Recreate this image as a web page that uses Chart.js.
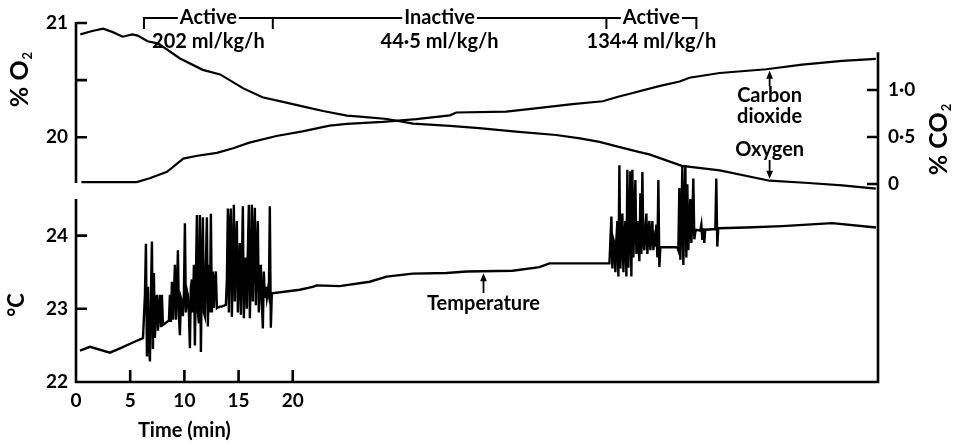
<!DOCTYPE html>
<html>
<head>
<meta charset="utf-8">
<script src="https://cdn.jsdelivr.net/npm/chart.js@4.4.1/dist/chart.umd.min.js"></script>
<style>
  html, body { margin: 0; padding: 0; background: #fff; }
  #wrap { position: relative; width: 954px; height: 444px; }
  #wrap canvas { position: absolute; left: 0; top: 0; }
</style>
</head>
<body>
<div id="wrap">
  <canvas id="gas" width="954" height="444"></canvas>
  <canvas id="temp" width="954" height="444"></canvas>
</div>
<script>
// ---- time axis (minutes) ----
const timeMax = 74;
const timeTicks = [0, 5, 10, 15, 20];
const timeTickLabels = ['0', '5', '10', '15', '20'];

// ---- axis ticks ----
const o2Ticks = [20, 20.5, 21];
const o2TickLabels = ['20', '', '21'];
const co2Ticks = [0, 0.5, 1.0];
const co2TickLabels = ['0', '0·5', '1·0'];
const tempTicks = [22, 23, 24];
const tempTickLabels = ['22', '23', '24'];

// ---- activity phases ----
const phaseNames = ['Active', 'Inactive', 'Active'];
const phaseRates = ['202 ml/kg/h', '44·5 ml/kg/h', '134·4 ml/kg/h'];
const phaseBounds = [6.27, 18.16, 48.94, 57.24];

// ---- oxygen (%) ----
const o2Time = [0.4, 1.5, 2.5, 3.4, 4.3, 5.2, 5.7, 6.6, 7.6, 9.6, 11.7, 13.3, 15.4, 17.2,
  19.1, 20.9, 22.8, 25.0, 26.2, 28.7, 31.1, 34.5, 37.2, 40.6, 44.3, 46.5, 48.3, 49.9,
  52.0, 52.9, 55.9, 59.4, 64.0, 67.6, 70.7, 73.8];
const o2Values = [20.90, 20.93, 20.95, 20.92, 20.88, 20.90, 20.89, 20.84, 20.82, 20.69,
  20.59, 20.55, 20.43, 20.35, 20.31, 20.27, 20.23, 20.19, 20.18, 20.16, 20.12, 20.10,
  20.08, 20.05, 20.02, 19.99, 19.96, 19.92, 19.87, 19.85, 19.75, 19.71, 19.62, 19.60,
  19.58, 19.55];

// ---- carbon dioxide (%) ----
const co2Time = [0.5, 3.0, 5.6, 6.8, 8.4, 9.9, 11.2, 13.0, 14.5, 16.0, 18.5, 20.9, 23.4,
  25.0, 28.3, 31.4, 34.5, 35.1, 39.7, 42.8, 45.8, 48.6, 50.1, 51.1, 53.8, 55.7, 56.6,
  59.4, 63.7, 67.0, 70.7, 73.8];
const co2Values = [0.02, 0.02, 0.02, 0.06, 0.13, 0.27, 0.30, 0.33, 0.38, 0.44, 0.51, 0.56,
  0.62, 0.64, 0.66, 0.69, 0.73, 0.76, 0.77, 0.81, 0.85, 0.88, 0.93, 0.96, 1.04, 1.09,
  1.13, 1.18, 1.22, 1.27, 1.31, 1.33];

// ---- temperature (°C): slow trend outside the activity bouts ----
const tempTime = [0.37, 1.29, 3.13, 4.06, 5.25, 6.18,
  20.65, 21.84, 22.21, 24.33, 27.10, 28.66, 31.06, 34.19, 36.04, 40.28, 42.76, 43.69, 49.22,
  57.60, 57.70, 57.79, 57.88, 57.97, 58.06, 58.99, 59.08, 59.17, 59.26, 61.84, 65.16, 69.77, 73.82];
const tempValues = [22.43, 22.48, 22.40, 22.46, 22.54, 22.60,
  23.26, 23.30, 23.32, 23.31, 23.37, 23.44, 23.48, 23.49, 23.51, 23.52, 23.57, 23.62, 23.62,
  24.07, 24.15, 23.94, 24.10, 23.90, 24.08, 24.09, 24.78, 23.85, 24.10, 24.11, 24.13, 24.17, 24.11];

// ---- temperature during activity bouts, read at a fixed recorder step ----
const burstStep = 0.0922; // minutes between readings
const burst1Start = 6.36;
const burst1Values = [
  23.19, 23.89, 22.35, 23.30, 22.50, 22.28, 23.20, 23.92, 22.45, 23.49,
  22.60, 23.10, 23.19, 22.70, 23.00, 23.19, 22.75, 23.19, 22.78, 22.79,
  22.80, 22.81, 22.82, 22.83, 22.84, 23.19, 22.82, 23.37, 22.85, 23.20,
  23.60, 22.85, 23.20, 23.80, 22.90, 22.64, 23.15, 23.10, 22.90, 23.20,
  24.17, 22.95, 23.25, 23.19, 22.95, 22.46, 23.30, 23.40, 22.95, 23.60,
  22.50, 23.40, 24.28, 22.95, 22.80, 24.28, 22.41, 23.50, 24.25, 22.95,
  22.90, 23.60, 24.25, 22.76, 23.60, 22.95, 24.30, 22.95, 23.51, 23.01,
  23.40, 23.51, 23.01, 23.02, 23.02, 23.03, 23.03, 23.03, 23.04, 23.04,
  23.05, 23.05, 23.40, 24.37, 22.95, 24.10, 24.37, 22.89, 23.60, 24.42,
  23.10, 23.80, 24.20, 22.95, 23.50, 23.90, 22.92, 23.60, 24.40, 22.87,
  23.40, 23.70, 23.00, 23.80, 24.42, 22.87, 23.50, 24.42, 23.10, 23.90,
  24.38, 23.05, 23.70, 24.20, 22.95, 23.30, 23.60, 23.10, 22.73, 23.51,
  23.15, 23.30, 23.15, 23.25, 23.18, 24.40, 22.74, 23.21];
const burst2Start = 49.40;
const burst2Values = [
  24.26, 23.55, 23.95, 23.90, 23.50, 23.95, 24.20, 23.44, 24.96, 23.55,
  24.00, 24.30, 23.50, 23.95, 24.20, 23.44, 24.90, 23.56, 24.10, 24.88,
  23.44, 24.90, 23.70, 24.20, 24.76, 23.75, 24.20, 23.90, 23.65, 24.58,
  23.75, 24.87, 23.90, 23.80, 24.10, 24.30, 23.75, 24.05, 24.20, 23.80,
  24.00, 24.20, 23.80, 23.95, 23.85, 24.15, 23.70, 24.76, 23.57, 23.84,
  23.84, 23.84, 23.84, 23.84, 23.84, 23.84, 23.84, 23.84, 23.84, 23.84,
  23.84, 23.84, 23.84, 23.84, 23.84, 23.84, 23.84, 23.80, 24.65, 23.67,
  24.20, 24.94, 23.60, 24.30, 24.96, 23.70, 24.70, 23.80, 24.20, 24.50,
  23.90, 24.20, 24.78, 23.95, 24.05, 24.08];

// ---- shared drawing helpers ----
const FAMILY = 'Lato, "DejaVu Sans", sans-serif';
const INK = '#000';
const font = (size, weight = 'bold') => `${weight} ${size}px ${FAMILY}`;
const toPoints = (ts, vs) => ts.map((t, i) => ({ x: t, y: vs[i] }));
const burstPoints = (start, vs) => vs.map((v, i) => ({ x: start + i * burstStep, y: v }));

const temperaturePoints = toPoints(tempTime, tempValues)
  .concat(burstPoints(burst1Start, burst1Values), burstPoints(burst2Start, burst2Values))
  .sort((a, b) => a.x - b.x);

function seriesAt(points, t) {
  for (let i = 1; i < points.length; i++) {
    if (t <= points[i].x) {
      const p = points[i - 1], q = points[i];
      return p.y + (t - p.x) / (q.x - p.x) * (q.y - p.y);
    }
  }
  return points[points.length - 1].y;
}

function arrow(ctx, x, yFrom, yTo) {
  const dir = yTo < yFrom ? -1 : 1;
  ctx.beginPath();
  ctx.lineWidth = 1.8;
  ctx.moveTo(x, yFrom);
  ctx.lineTo(x, yTo - dir * 5);
  ctx.stroke();
  ctx.beginPath();
  ctx.moveTo(x, yTo);
  ctx.lineTo(x - 3.4, yTo - dir * 8);
  ctx.lineTo(x + 3.4, yTo - dir * 8);
  ctx.closePath();
  ctx.fill();
}

function verticalTitle(ctx, cx, cy, main, sub, size) {
  ctx.save();
  ctx.translate(cx, cy);
  ctx.rotate(-Math.PI / 2);
  ctx.textBaseline = 'middle';
  ctx.textAlign = 'left';
  ctx.font = font(size);
  const wMain = ctx.measureText(main).width;
  ctx.font = font(Math.round(size * 0.5));
  const wSub = sub ? ctx.measureText(sub).width : 0;
  const x0 = -(wMain + wSub) / 2;
  ctx.font = font(size);
  ctx.fillText(main, x0, 0);
  if (sub) {
    ctx.font = font(Math.round(size * 0.5));
    ctx.fillText(sub, x0 + wMain + 1, size * 0.3);
  }
  ctx.restore();
}

const fixedTicks = values => scale => { scale.ticks = values.map(v => ({ value: v })); };
const tickFont = { family: FAMILY, size: 19, weight: 'bold' };
const hiddenGrid = { display: false, drawTicks: false };

// ---- gas panel frame and notes ----
const gasFrame = {
  id: 'gasFrame',
  afterDraw(chart) {
    const { ctx, chartArea: a, scales: { x, yO2, yCO2 } } = chart;
    ctx.save();
    ctx.strokeStyle = INK;
    ctx.fillStyle = INK;

    // left O2 axis with inward ticks
    ctx.lineWidth = 2.6;
    ctx.beginPath();
    ctx.moveTo(a.left, yO2.getPixelForValue(21) - 1);
    ctx.lineTo(a.left, yO2.getPixelForValue(19.6));
    o2Ticks.forEach(v => {
      const py = yO2.getPixelForValue(v);
      ctx.moveTo(a.left, py);
      ctx.lineTo(a.left + 11, py);
    });
    // right CO2 axis, continuing into the temperature frame below
    ctx.moveTo(a.right, yCO2.getPixelForValue(1.4));
    ctx.lineTo(a.right, a.bottom);
    co2Ticks.forEach(v => {
      const py = yCO2.getPixelForValue(v);
      ctx.moveTo(a.right, py);
      ctx.lineTo(a.right - 11, py);
    });
    ctx.stroke();

    // activity phase bracket
    const yBr = 18;
    const xs = phaseBounds.map(t => x.getPixelForValue(t));
    ctx.font = font(20);
    ctx.textAlign = 'center';
    ctx.textBaseline = 'middle';
    ctx.lineWidth = 2;
    ctx.beginPath();
    xs.forEach(px => { ctx.moveTo(px, yBr - 1); ctx.lineTo(px, yBr + 11); });
    let cursor = xs[0];
    phaseNames.forEach((name, i) => {
      const cx = (xs[i] + xs[i + 1]) / 2;
      const w = ctx.measureText(name).width;
      ctx.moveTo(cursor, yBr);
      ctx.lineTo(cx - w / 2 - 2, yBr);
      cursor = cx + w / 2 + 2;
      ctx.fillText(name, cx, yBr);
      ctx.fillText(phaseRates[i], cx, 42);
    });
    ctx.moveTo(cursor, yBr);
    ctx.lineTo(xs[xs.length - 1], yBr);
    ctx.stroke();

    // curve labels
    const tNote = 64;
    const xn = x.getPixelForValue(tNote);
    ctx.fillText('Carbon', xn, 96);
    ctx.fillText('dioxide', xn, 117);
    ctx.fillText('Oxygen', xn, 150);
    arrow(ctx, xn, 86, yCO2.getPixelForValue(seriesAt(toPoints(co2Time, co2Values), tNote)) + 2);
    arrow(ctx, xn, 160, yO2.getPixelForValue(seriesAt(toPoints(o2Time, o2Values), tNote)) - 2);

    // axis titles
    verticalTitle(ctx, 20, 80, '% O', '2', 25);
    verticalTitle(ctx, 939, 140, '% CO', '2', 25);
    ctx.restore();
  }
};

new Chart(document.getElementById('gas'), {
  type: 'line',
  data: {
    datasets: [
      { label: 'Oxygen', data: toPoints(o2Time, o2Values), yAxisID: 'yO2',
        borderColor: INK, borderWidth: 2.2, pointRadius: 0, tension: 0, fill: false, clip: false },
      { label: 'Carbon dioxide', data: toPoints(co2Time, co2Values), yAxisID: 'yCO2',
        borderColor: INK, borderWidth: 2.2, pointRadius: 0, tension: 0, fill: false, clip: false }
    ]
  },
  options: {
    responsive: false,
    animation: false,
    devicePixelRatio: 1,
    layout: { padding: { top: 23, bottom: 245, left: 0, right: 0 } },
    plugins: { legend: { display: false }, tooltip: { enabled: false } },
    scales: {
      x: { type: 'linear', min: 0, max: timeMax, display: false },
      yO2: {
        position: 'left', min: 19.46, max: 21,
        afterBuildTicks: fixedTicks(o2Ticks),
        afterFit: s => { s.width = 76; },
        grid: hiddenGrid, border: { display: false },
        ticks: { color: INK, font: tickFont, padding: 8,
          callback: (v, i) => o2TickLabels[i] }
      },
      yCO2: {
        position: 'right', min: -0.16, max: 1.712,
        afterBuildTicks: fixedTicks(co2Ticks),
        afterFit: s => { s.width = 76; },
        grid: hiddenGrid, border: { display: false },
        ticks: { color: INK, font: tickFont, padding: 10,
          callback: (v, i) => co2TickLabels[i] }
      }
    }
  },
  plugins: [gasFrame]
});

// ---- temperature panel frame and notes ----
const tempFrame = {
  id: 'tempFrame',
  afterDraw(chart) {
    const { ctx, chartArea: a, scales: { x, yT } } = chart;
    ctx.save();
    ctx.strokeStyle = INK;
    ctx.fillStyle = INK;
    ctx.lineWidth = 2.6;
    ctx.beginPath();
    ctx.moveTo(a.left, yT.getPixelForValue(24.5));
    ctx.lineTo(a.left, a.bottom);
    ctx.lineTo(a.right, a.bottom);
    ctx.lineTo(a.right, a.top);
    tempTicks.forEach(v => {
      const py = yT.getPixelForValue(v);
      ctx.moveTo(a.left, py);
      ctx.lineTo(a.left + 11, py);
    });
    timeTicks.forEach(t => {
      const px = x.getPixelForValue(t);
      ctx.moveTo(px, a.bottom);
      ctx.lineTo(px, a.bottom - 12);
    });
    ctx.stroke();

    ctx.font = font(20);
    ctx.textAlign = 'center';
    ctx.textBaseline = 'middle';
    const tNote = 37.6;
    const xn = x.getPixelForValue(tNote);
    ctx.fillText('Temperature', xn, 304);
    arrow(ctx, xn, 293, yT.getPixelForValue(seriesAt(temperaturePoints, tNote)) + 2);

    const xMid = (x.getPixelForValue(timeTicks[0]) + x.getPixelForValue(timeTicks[timeTicks.length - 1])) / 2;
    ctx.fillText('Time (min)', xMid, 431);
    verticalTitle(ctx, 17, 305, '°C', '', 22);
    ctx.restore();
  }
};

new Chart(document.getElementById('temp'), {
  type: 'line',
  data: {
    datasets: [
      { label: 'Temperature', data: temperaturePoints, yAxisID: 'yT',
        borderColor: INK, borderWidth: 2.4, pointRadius: 0, tension: 0, fill: false, clip: false }
    ]
  },
  options: {
    responsive: false,
    animation: false,
    devicePixelRatio: 1,
    layout: { padding: { top: 199, bottom: 0, left: 0, right: 76 } },
    plugins: { legend: { display: false }, tooltip: { enabled: false } },
    scales: {
      x: {
        type: 'linear', min: 0, max: timeMax,
        afterBuildTicks: fixedTicks(timeTicks),
        afterFit: s => { s.height = 62; },
        grid: hiddenGrid, border: { display: false },
        ticks: { color: INK, font: tickFont, padding: 7, autoSkip: false, maxRotation: 0,
          callback: (v, i) => timeTickLabels[i] }
      },
      yT: {
        position: 'left', min: 22, max: 24.5,
        afterBuildTicks: fixedTicks(tempTicks),
        afterFit: s => { s.width = 76; },
        grid: hiddenGrid, border: { display: false },
        ticks: { color: INK, font: tickFont, padding: 8,
          callback: (v, i) => tempTickLabels[i] }
      }
    }
  },
  plugins: [tempFrame]
});
</script>
</body>
</html>
